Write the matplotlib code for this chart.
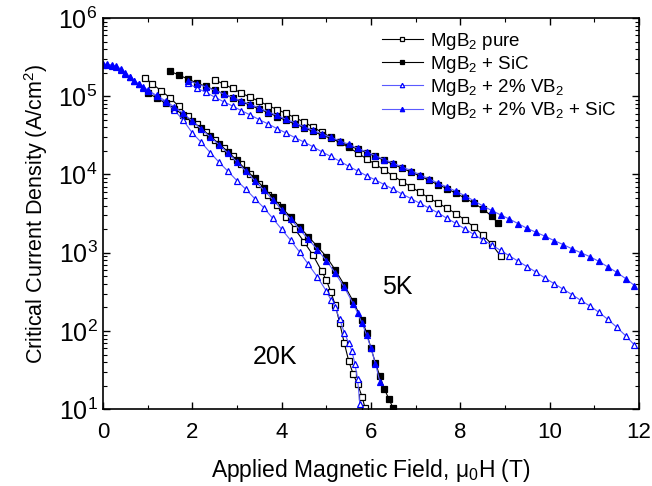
import numpy as np
import matplotlib
matplotlib.use('Agg')
import matplotlib.pyplot as plt
from matplotlib.ticker import MultipleLocator, LogLocator, NullFormatter

plt.rcParams['font.family'] = ['Liberation Sans', 'DejaVu Sans']
plt.rcParams['mathtext.fontset'] = 'custom'
plt.rcParams['mathtext.rm'] = 'Liberation Sans'
plt.rcParams['mathtext.it'] = 'Liberation Sans:italic'

# field in T, Jc given as log10(A/cm^2)

# ---- 5 K ----
b_5k_pure = [2.5, 2.7, 2.9, 3.1, 3.3, 3.5, 3.7, 3.9, 4.1, 4.3, 4.5, 4.7, 4.9, 5.1, 5.3, 5.5,
             5.7, 5.9, 6.1, 6.3, 6.5, 6.7, 6.9, 7.1, 7.3, 7.5, 7.7, 7.9, 8.1, 8.3, 8.5, 8.7, 8.9]
jc_5k_pure = [5.21, 5.155, 5.10, 5.04, 4.985, 4.935, 4.88, 4.83, 4.78, 4.725, 4.67, 4.605, 4.54,
              4.475, 4.41, 4.345, 4.275, 4.20, 4.13, 4.055, 3.98, 3.91, 3.84, 3.77, 3.70, 3.635,
              3.57, 3.50, 3.42, 3.33, 3.23, 3.11, 2.96]

b_5k_sic = [1.5, 1.7, 1.9, 2.1, 2.3, 2.5, 2.7, 2.9, 3.1, 3.3, 3.5, 3.7, 3.9, 4.1, 4.3, 4.5, 4.7,
            4.9, 5.1, 5.3, 5.5, 5.7, 5.9, 6.1, 6.3, 6.5, 6.7, 6.9, 7.1, 7.3, 7.5, 7.7, 7.9, 8.1,
            8.3, 8.5, 8.7, 8.84]
jc_5k_sic = [5.32, 5.27, 5.22, 5.17, 5.125, 5.08, 5.03, 4.98, 4.93, 4.885, 4.835, 4.79, 4.74,
             4.69, 4.645, 4.60, 4.55, 4.505, 4.46, 4.415, 4.37, 4.325, 4.28, 4.23, 4.18, 4.13,
             4.08, 4.03, 3.98, 3.925, 3.87, 3.82, 3.76, 3.70, 3.635, 3.56, 3.47, 3.38]

b_5k_vb2 = [1.9, 2.1, 2.3, 2.5, 2.7, 2.9, 3.1, 3.3, 3.5, 3.7, 3.9, 4.1, 4.3, 4.5, 4.7, 4.9, 5.1,
            5.3, 5.5, 5.7, 5.9, 6.1, 6.3, 6.5, 6.7, 6.9, 7.1, 7.3, 7.5, 7.7, 7.9, 8.1, 8.3, 8.5,
            8.7, 8.9, 9.1, 9.3, 9.5, 9.7, 9.9, 10.1, 10.3, 10.5, 10.7, 10.9, 11.1, 11.3, 11.5,
            11.7, 11.9]
jc_5k_vb2 = [5.165, 5.105, 5.05, 4.99, 4.93, 4.875, 4.815, 4.76, 4.70, 4.645, 4.585, 4.53, 4.47,
             4.415, 4.355, 4.29, 4.23, 4.17, 4.105, 4.045, 3.985, 3.93, 3.87, 3.81, 3.75, 3.69,
             3.63, 3.57, 3.51, 3.44, 3.375, 3.305, 3.235, 3.165, 3.10, 3.03, 2.96, 2.89, 2.82,
             2.75, 2.675, 2.605, 2.535, 2.465, 2.39, 2.32, 2.24, 2.15, 2.05, 1.94, 1.82]

b_5k_vb2_sic = [1.9, 2.1, 2.3, 2.5, 2.7, 2.9, 3.1, 3.3, 3.5, 3.7, 3.9, 4.1, 4.3, 4.5, 4.7, 4.9,
                5.1, 5.3, 5.5, 5.7, 5.9, 6.1, 6.3, 6.5, 6.7, 6.9, 7.1, 7.3, 7.5, 7.7, 7.9, 8.1,
                8.3, 8.5, 8.7, 8.9, 9.1, 9.3, 9.5, 9.7, 9.9, 10.1, 10.3, 10.5, 10.7, 10.9, 11.1,
                11.3, 11.5, 11.7, 11.9]
jc_5k_vb2_sic = [5.20, 5.16, 5.12, 5.075, 5.03, 4.985, 4.94, 4.895, 4.85, 4.80, 4.755, 4.705,
                 4.66, 4.61, 4.565, 4.52, 4.475, 4.43, 4.385, 4.335, 4.29, 4.24, 4.19, 4.145,
                 4.095, 4.05, 3.995, 3.945, 3.89, 3.84, 3.785, 3.73, 3.665, 3.60, 3.54, 3.485,
                 3.43, 3.37, 3.31, 3.26, 3.21, 3.155, 3.105, 3.05, 3.00, 2.95, 2.89, 2.82, 2.75,
                 2.67, 2.58]

# ---- 20 K ----
b_20k_pure = [0.95, 1.1, 1.3, 1.5, 1.7, 1.9, 2.1, 2.3, 2.5, 2.7, 2.9, 3.1, 3.3, 3.5, 3.7, 3.9,
              4.1, 4.3, 4.5, 4.7, 4.9, 5.0, 5.1, 5.2, 5.3, 5.4, 5.5, 5.6, 5.7, 5.8, 5.87]
jc_20k_pure = [5.23, 5.16, 5.07, 4.98, 4.87, 4.75, 4.64, 4.54, 4.44, 4.34, 4.24, 4.13, 4.01,
               3.88, 3.74, 3.61, 3.46, 3.30, 3.14, 2.97, 2.76, 2.65, 2.50, 2.33, 2.10, 1.85,
               1.62, 1.45, 1.32, 1.16, 1.01]

b_20k_sic = [1.0, 1.2, 1.4, 1.6, 1.8, 2.0, 2.2, 2.4, 2.6, 2.8, 3.0, 3.2, 3.4, 3.6, 3.8, 4.0,
             4.2, 4.4, 4.6, 4.8, 5.0, 5.2, 5.4, 5.6, 5.8, 5.9, 6.0, 6.1, 6.2, 6.3, 6.4, 6.5]
jc_20k_sic = [5.04, 4.98, 4.91, 4.84, 4.76, 4.68, 4.59, 4.49, 4.39, 4.29, 4.18, 4.06, 3.95,
              3.83, 3.71, 3.58, 3.455, 3.33, 3.205, 3.08, 2.95, 2.78, 2.59, 2.38, 2.14, 1.98,
              1.78, 1.59, 1.42, 1.26, 1.13, 1.01]

b_20k_vb2 = [0.0, 0.1, 0.2, 0.3, 0.4, 0.5, 0.6, 0.7, 0.8, 0.9, 1.0, 1.2, 1.4, 1.6, 1.8, 2.0,
             2.2, 2.4, 2.6, 2.8, 3.0, 3.2, 3.4, 3.6, 3.8, 4.0, 4.2, 4.4, 4.6, 4.8, 5.0, 5.1,
             5.2, 5.3, 5.4, 5.5, 5.57, 5.64, 5.7, 5.75]
jc_20k_vb2 = [5.40, 5.40, 5.39, 5.37, 5.34, 5.29, 5.24, 5.19, 5.15, 5.11, 5.07, 5.00, 4.92,
              4.82, 4.69, 4.53, 4.41, 4.28, 4.155, 4.04, 3.92, 3.81, 3.69, 3.575, 3.44, 3.30,
              3.16, 3.01, 2.85, 2.69, 2.51, 2.40, 2.30, 2.15, 1.98, 1.85, 1.75, 1.58, 1.38, 1.07]

b_20k_vb2_sic = [0.0, 0.1, 0.2, 0.3, 0.4, 0.5, 0.6, 0.7, 0.8, 0.9, 1.0, 1.2, 1.4, 1.6, 1.8,
                 2.0, 2.2, 2.4, 2.6, 2.8, 3.0, 3.2, 3.4, 3.6, 3.8, 4.0, 4.2, 4.4, 4.6, 4.8,
                 5.0, 5.2, 5.4, 5.6, 5.7, 5.8, 5.9, 6.0, 6.1, 6.2]
jc_20k_vb2_sic = [5.41, 5.41, 5.40, 5.38, 5.35, 5.30, 5.25, 5.20, 5.16, 5.12, 5.08, 5.01, 4.94,
                  4.86, 4.78, 4.68, 4.58, 4.48, 4.38, 4.27, 4.16, 4.04, 3.92, 3.80, 3.68, 3.55,
                  3.43, 3.30, 3.17, 3.04, 2.90, 2.74, 2.56, 2.35, 2.23, 2.10, 1.95, 1.78, 1.58,
                  1.35]

labels = ['MgB$_2$ pure', 'MgB$_2$ + SiC', 'MgB$_2$ + 2% VB$_2$', 'MgB$_2$ + 2% VB$_2$ + SiC']


def main():
    fig = plt.figure(figsize=(6.52, 4.86), dpi=100)
    ax = fig.add_axes([0.158, 0.158, 0.822, 0.805])

    blue = '#0000ff'
    blue_line = '#5a5aff'
    styles = [
        dict(marker='s', color='black', mfc='white', mec='black'),
        dict(marker='s', color='black', mfc='black', mec='black'),
        dict(marker='^', color=blue_line, mfc='white', mec=blue),
        dict(marker='^', color=blue_line, mfc=blue, mec=blue),
    ]
    sets = [
        (b_20k_pure, jc_20k_pure, b_5k_pure, jc_5k_pure),
        (b_20k_sic, jc_20k_sic, b_5k_sic, jc_5k_sic),
        (b_20k_vb2, jc_20k_vb2, b_5k_vb2, jc_5k_vb2),
        (b_20k_vb2_sic, jc_20k_vb2_sic, b_5k_vb2_sic, jc_5k_vb2_sic),
    ]

    for (b20, j20, b5, j5), st, lab in zip(sets, styles, labels):
        ax.plot(b20, 10 ** np.array(j20), lw=0.8, ms=4.5, mew=0.9, label=lab, **st)
        ax.plot(b5, 10 ** np.array(j5), lw=0.8, ms=4.5, mew=0.9, **st)

    ax.set_yscale('log')
    ax.set_xlim(0, 12)
    ax.set_ylim(10, 1e6)
    ax.xaxis.set_major_locator(MultipleLocator(2))
    ax.xaxis.set_minor_locator(MultipleLocator(1))
    ax.yaxis.set_major_locator(LogLocator(base=10, numticks=10))
    ax.yaxis.set_minor_locator(LogLocator(base=10, subs=np.arange(2, 10), numticks=10))
    ax.yaxis.set_minor_formatter(NullFormatter())
    ax.tick_params(which='both', direction='in', top=True, right=True)
    ax.tick_params(axis='x', labelsize=16, pad=9)
    ax.tick_params(axis='y', labelsize=18, pad=4)
    ax.tick_params(which='major', length=5, width=1)
    ax.tick_params(which='minor', length=3, width=0.8)
    for s in ax.spines.values():
        s.set_linewidth(1.2)

    ax.set_xlabel('Applied Magnetic Field, \u03bc$_0$H (T)', fontsize=16.5, labelpad=10)
    ax.set_ylabel('Critical Current Density (A/cm$^2$)', fontsize=15.5, labelpad=6)

    ax.text(6.58, 3.6e2, '5K', fontsize=18, ha='center', va='center')
    ax.text(3.85, 46, '20K', fontsize=18, ha='center', va='center')

    ax.legend(loc='upper left', bbox_to_anchor=(0.52, 0.968), frameon=False, fontsize=13.5,
              handlelength=2.2, handletextpad=0.35, labelspacing=0.12, borderpad=0,
              borderaxespad=0, markerscale=0.7)

    fig.savefig('out.png', dpi=100)


if __name__ == '__main__':
    main()
